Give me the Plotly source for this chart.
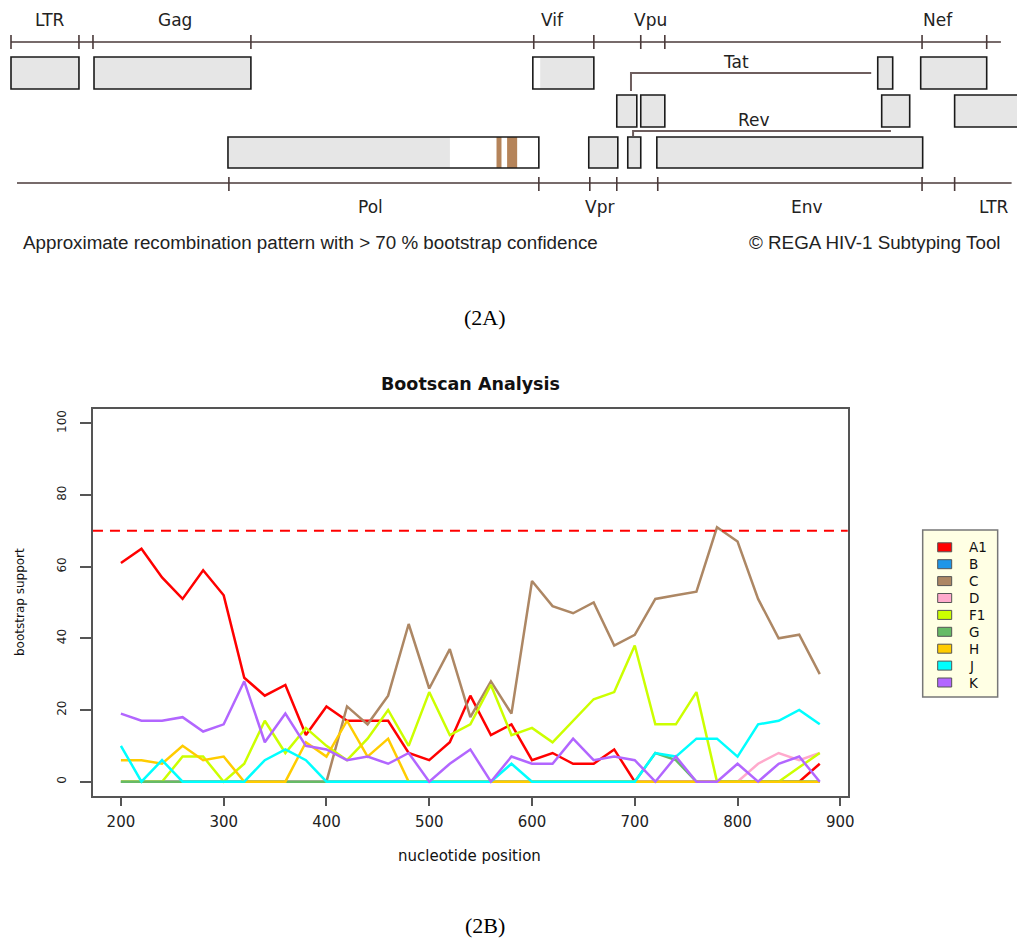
import plotly.graph_objects as go

# ---------------- Bootscan data ----------------
positions = [200, 220, 240, 260, 280, 300, 320, 340, 360, 380, 400, 420, 440, 460, 480, 500, 520,
             540, 560, 580, 600, 620, 640, 660, 680, 700, 720, 740, 760, 780, 800, 820, 840, 860, 880]
subtypes = ["A1", "B", "C", "D", "F1", "G", "H", "J", "K"]
colors = ["#FF0000", "#1E96E8", "#AD8764", "#FFAACC", "#CCFF00", "#66BB66", "#FFCC00", "#00FFFF", "#B266FF"]

a1 = [61, 65, 57, 51, 59, 52, 29, 24, 27, 13, 21, 17, 17, 17, 8, 6, 11, 24, 13, 16, 6, 8, 5, 5, 9,
      0, 0, 0, 0, 0, 0, 0, 0, 0, 5]
b = [0, 0, 0, 0, 0, 0, 0, 0, 0, 0, 0, 0, 0, 0, 0, 0, 0, 0, 0, 0, 0, 0, 0, 0, 0,
     0, 0, 0, 0, 0, 0, 0, 0, 0, 0]
c = [0, 0, 0, 0, 0, 0, 0, 0, 0, 0, 0, 21, 16, 24, 44, 26, 37, 18, 28, 19, 56, 49, 47, 50, 38,
     41, 51, 52, 53, 71, 67, 51, 40, 41, 30]
d = [0, 0, 0, 0, 0, 0, 0, 0, 0, 0, 0, 0, 0, 0, 0, 0, 0, 0, 0, 0, 0, 0, 0, 0, 0,
     0, 0, 0, 0, 0, 0, 5, 8, 6, 8]
f1 = [0, 0, 0, 7, 7, 0, 5, 17, 8, 15, 10, 6, 12, 20, 10, 25, 13, 16, 27, 13, 15, 11, 17, 23, 25,
      38, 16, 16, 25, 0, 0, 0, 0, 4, 8]
g = [0, 0, 0, 0, 0, 0, 0, 0, 0, 0, 0, 0, 0, 0, 0, 0, 0, 0, 0, 0, 0, 0, 0, 0, 0,
     0, 8, 6, 0, 0, 0, 0, 0, 0, 0]
h = [6, 6, 5, 10, 6, 7, 0, 0, 0, 11, 7, 17, 7, 12, 0, 0, 0, 0, 0, 0, 0, 0, 0, 0, 0,
     0, 0, 0, 0, 0, 0, 0, 0, 0, 0]
j = [10, 0, 6, 0, 0, 0, 0, 6, 9, 6, 0, 0, 0, 0, 0, 0, 0, 0, 0, 5, 0, 0, 0, 0, 0,
     0, 8, 7, 12, 12, 7, 16, 17, 20, 16]
k = [19, 17, 17, 18, 14, 16, 28, 11, 19, 10, 9, 6, 7, 5, 8, 0, 5, 9, 0, 7, 5, 5, 12, 6, 7,
     6, 0, 7, 0, 0, 5, 0, 5, 7, 0]
series = [a1, b, c, d, f1, g, h, j, k]
threshold = 70

x_ticks = [200, 300, 400, 500, 600, 700, 800, 900]
y_ticks = [0, 20, 40, 60, 80, 100]

# ---------------- Genome map data (approx. HXB2 coordinates, read from the map) ----------------
gene_names = ["LTR", "Gag", "Vif", "Tat", "Nef", "Tat", "Vpu", "Rev", "LTR", "Pol", "Vpr", "Rev", "Env"]
gene_start = [0, 800, 5029, 8353, 8767, 5838, 6069, 8391, 9094, 2091, 5568, 5944, 6224]
gene_end = [655, 2312, 5617, 8497, 9403, 6031, 6301, 8661, 9719, 5087, 5848, 6069, 8786]
gene_row = [0, 0, 0, 0, 0, 1, 1, 1, 1, 2, 2, 2, 2]
query_region = [4230, 5100]
recomb_start = [4679, 4781]
recomb_end = [4727, 4878]
top_ticks = [0, 655, 790, 2312, 5038, 5617, 6069, 6301, 8780, 9403]
bottom_ticks = [2100, 5087, 5578, 5838, 6233, 8780, 9094]

W, H = 1024, 952
SX = 0.9935  # horizontal compensation for the capture


def PX(x):
    return min(x / (W * SX), 1.0)


def PY(y):
    return 1 - y / H


fig = go.Figure()

for name, col, vals in zip(subtypes, colors, series):
    fig.add_trace(go.Scatter(x=positions, y=vals, mode="lines", name=name,
                             line=dict(color=col, width=2.5), xaxis="x", yaxis="y",
                             showlegend=False, hoverinfo="skip"))

# dummy trace to activate genome-map axes
fig.add_trace(go.Scatter(x=[None], y=[None], xaxis="x2", yaxis="y2", showlegend=False, hoverinfo="skip"))

shapes = []
annotations = []

# threshold line
shapes.append(dict(type="line", xref="x domain", yref="y", x0=0, x1=1, y0=threshold, y1=threshold,
                   line=dict(color="#FF0000", width=2, dash="10px,7px")))

# ---- genome map ----
row_top = [57, 95, 137]
row_bot = [89, 127, 168]
map_line = "#4A3A3A"
for nm, s, e, r in zip(gene_names, gene_start, gene_end, gene_row):
    y0, y1 = row_top[r], row_bot[r]
    shapes.append(dict(type="rect", xref="x2", yref="y2", x0=s, x1=e, y0=y0, y1=y1,
                       fillcolor="#E6E6E6", line=dict(width=0), layer="above"))
    qs, qe = max(s, query_region[0]), min(e, query_region[1])
    if qs < qe:
        shapes.append(dict(type="rect", xref="x2", yref="y2", x0=qs, x1=qe, y0=y0, y1=y1,
                           fillcolor="white", line=dict(width=0), layer="above"))
    for rs, re_ in zip(recomb_start, recomb_end):
        if rs >= s and re_ <= e:
            shapes.append(dict(type="rect", xref="x2", yref="y2", x0=rs, x1=re_, y0=y0, y1=y1,
                               fillcolor="#B5845A", line=dict(width=0), layer="above"))
    shapes.append(dict(type="rect", xref="x2", yref="y2", x0=s, x1=e, y0=y0, y1=y1,
                       fillcolor="rgba(0,0,0,0)", line=dict(color="#1A1A1A", width=1.6), layer="above"))

# top and bottom axis lines
shapes.append(dict(type="line", xref="x2", yref="y2", x0=0, x1=9540, y0=42, y1=42,
                   line=dict(color=map_line, width=1.6)))
for t in top_ticks:
    shapes.append(dict(type="line", xref="x2", yref="y2", x0=t, x1=t, y0=35, y1=49,
                       line=dict(color=map_line, width=1.6)))
shapes.append(dict(type="line", xref="x2", yref="y2", x0=58, x1=9643, y0=183, y1=183,
                   line=dict(color=map_line, width=1.6)))
for t in bottom_ticks:
    shapes.append(dict(type="line", xref="x2", yref="y2", x0=t, x1=t, y0=177, y1=191,
                       line=dict(color=map_line, width=1.6)))

# Tat / Rev connectors
conn = "#6E5E5E"
shapes.append(dict(type="path", xref="x2", yref="y2",
                   path="M 5975 91 L 5975 73 L 8290 73", line=dict(color=conn, width=2)))
shapes.append(dict(type="path", xref="x2", yref="y2",
                   path="M 5995 136 L 5995 131 L 8480 131", line=dict(color=conn, width=2)))

map_font = dict(family="DejaVu Sans", size=17, color="#222")
for txt, x, y in [("LTR", 50, 20), ("Gag", 175, 20), ("Vif", 553, 20), ("Vpu", 651, 20), ("Nef", 938, 20),
                  ("Tat", 736, 62), ("Rev", 754, 120),
                  ("Pol", 371, 207), ("Vpr", 600, 207), ("Env", 807, 207), ("LTR", 994, 207)]:
    annotations.append(dict(text=txt, x=PX(x), y=PY(y), xref="paper", yref="paper",
                            xanchor="center", yanchor="middle", showarrow=False, font=map_font))

cap_font = dict(family="Liberation Sans", size=18.8, color="#222")
annotations.append(dict(text="Approximate recombination pattern with > 70 % bootstrap confidence",
                        x=PX(21), y=PY(243), xref="paper", yref="paper", xanchor="left",
                        yanchor="middle", showarrow=False, font=cap_font))
annotations.append(dict(text="© REGA HIV-1 Subtyping Tool", x=PX(1003), y=PY(243), xref="paper",
                        yref="paper", xanchor="right", yanchor="middle", showarrow=False, font=cap_font))

serif = dict(family="Liberation Serif", size=22, color="black")
annotations.append(dict(text="(2A)", x=PX(485), y=PY(318), xref="paper", yref="paper",
                        showarrow=False, font=serif, xanchor="center", yanchor="middle"))
annotations.append(dict(text="(2B)", x=PX(485), y=PY(925), xref="paper", yref="paper",
                        showarrow=False, font=serif, xanchor="center", yanchor="middle"))

# plot titles
annotations.append(dict(text="<b>Bootscan Analysis</b>", x=PX(471), y=PY(384), xref="paper", yref="paper",
                        showarrow=False, xanchor="center", yanchor="middle",
                        font=dict(family="DejaVu Sans", size=17.5, color="#111")))
annotations.append(dict(text="nucleotide position", x=PX(470), y=PY(856), xref="paper", yref="paper",
                        showarrow=False, xanchor="center", yanchor="middle",
                        font=dict(family="DejaVu Sans", size=15, color="#111")))
annotations.append(dict(text="bootstrap support", x=PX(20), y=PY(602), xref="paper", yref="paper",
                        showarrow=False, xanchor="center", yanchor="middle", textangle=-90,
                        font=dict(family="DejaVu Sans", size=12, color="#111")))

# legend (manual)
shapes.append(dict(type="rect", xref="paper", yref="paper", x0=PX(923), x1=PX(998), y0=PY(530), y1=PY(697),
                   fillcolor="#FFFFE4", line=dict(color="#777", width=1.5)))
for i, (name, col) in enumerate(zip(subtypes, colors)):
    yc = 547.3 + i * 16.9
    shapes.append(dict(type="rect", xref="paper", yref="paper", x0=PX(938), x1=PX(952),
                       y0=PY(yc - 4.5), y1=PY(yc + 4.5), fillcolor=col, line=dict(color="#555", width=1)))
    annotations.append(dict(text=name, x=PX(967), y=PY(yc), xref="paper", yref="paper",
                            xanchor="left", yanchor="middle", showarrow=False,
                            font=dict(family="DejaVu Sans", size=13.5, color="#111")))

axis_common = dict(ticks="outside", tickwidth=1.5, tickcolor="#555", showline=True, mirror=True,
                   linecolor="#555", linewidth=1.5, showgrid=False, zeroline=False)

# genome axis: ref pixel p = 11 + nt * 0.1038 ; paper right edge at ref pixel W*SX
map_x0 = (0 - 11) / 0.1038
map_x1 = (W * SX - 11) / 0.1038

fig.update_layout(
    width=W, height=H, margin=dict(l=0, r=0, t=0, b=0),
    paper_bgcolor="white", plot_bgcolor="white", showlegend=False,
    xaxis=dict(domain=[PX(93), PX(848)], range=[172.8, 907.2], tickmode="array", tickvals=x_ticks,
               ticklen=8, ticklabelstandoff=3, anchor="y",
               tickfont=dict(family="DejaVu Sans", size=15, color="#222"), **axis_common),
    yaxis=dict(domain=[PY(796), PY(409)], range=[-4, 104], tickmode="array", tickvals=y_ticks,
               ticklen=11, tickangle=-90, ticklabelstandoff=9, anchor="x",
               tickfont=dict(family="DejaVu Sans", size=12, color="#222"), **axis_common),
    xaxis2=dict(domain=[0, 1], range=[map_x0, map_x1], visible=False, anchor="y2"),
    yaxis2=dict(domain=[PY(262), 1], range=[262, 0], visible=False, anchor="x2"),
    shapes=shapes, annotations=annotations,
)

fig.write_html("out.html", config={"displayModeBar": False},
               post_script="document.documentElement.style.overflow='hidden';"
                           "document.body.style.margin='0';document.body.style.overflow='hidden';")
